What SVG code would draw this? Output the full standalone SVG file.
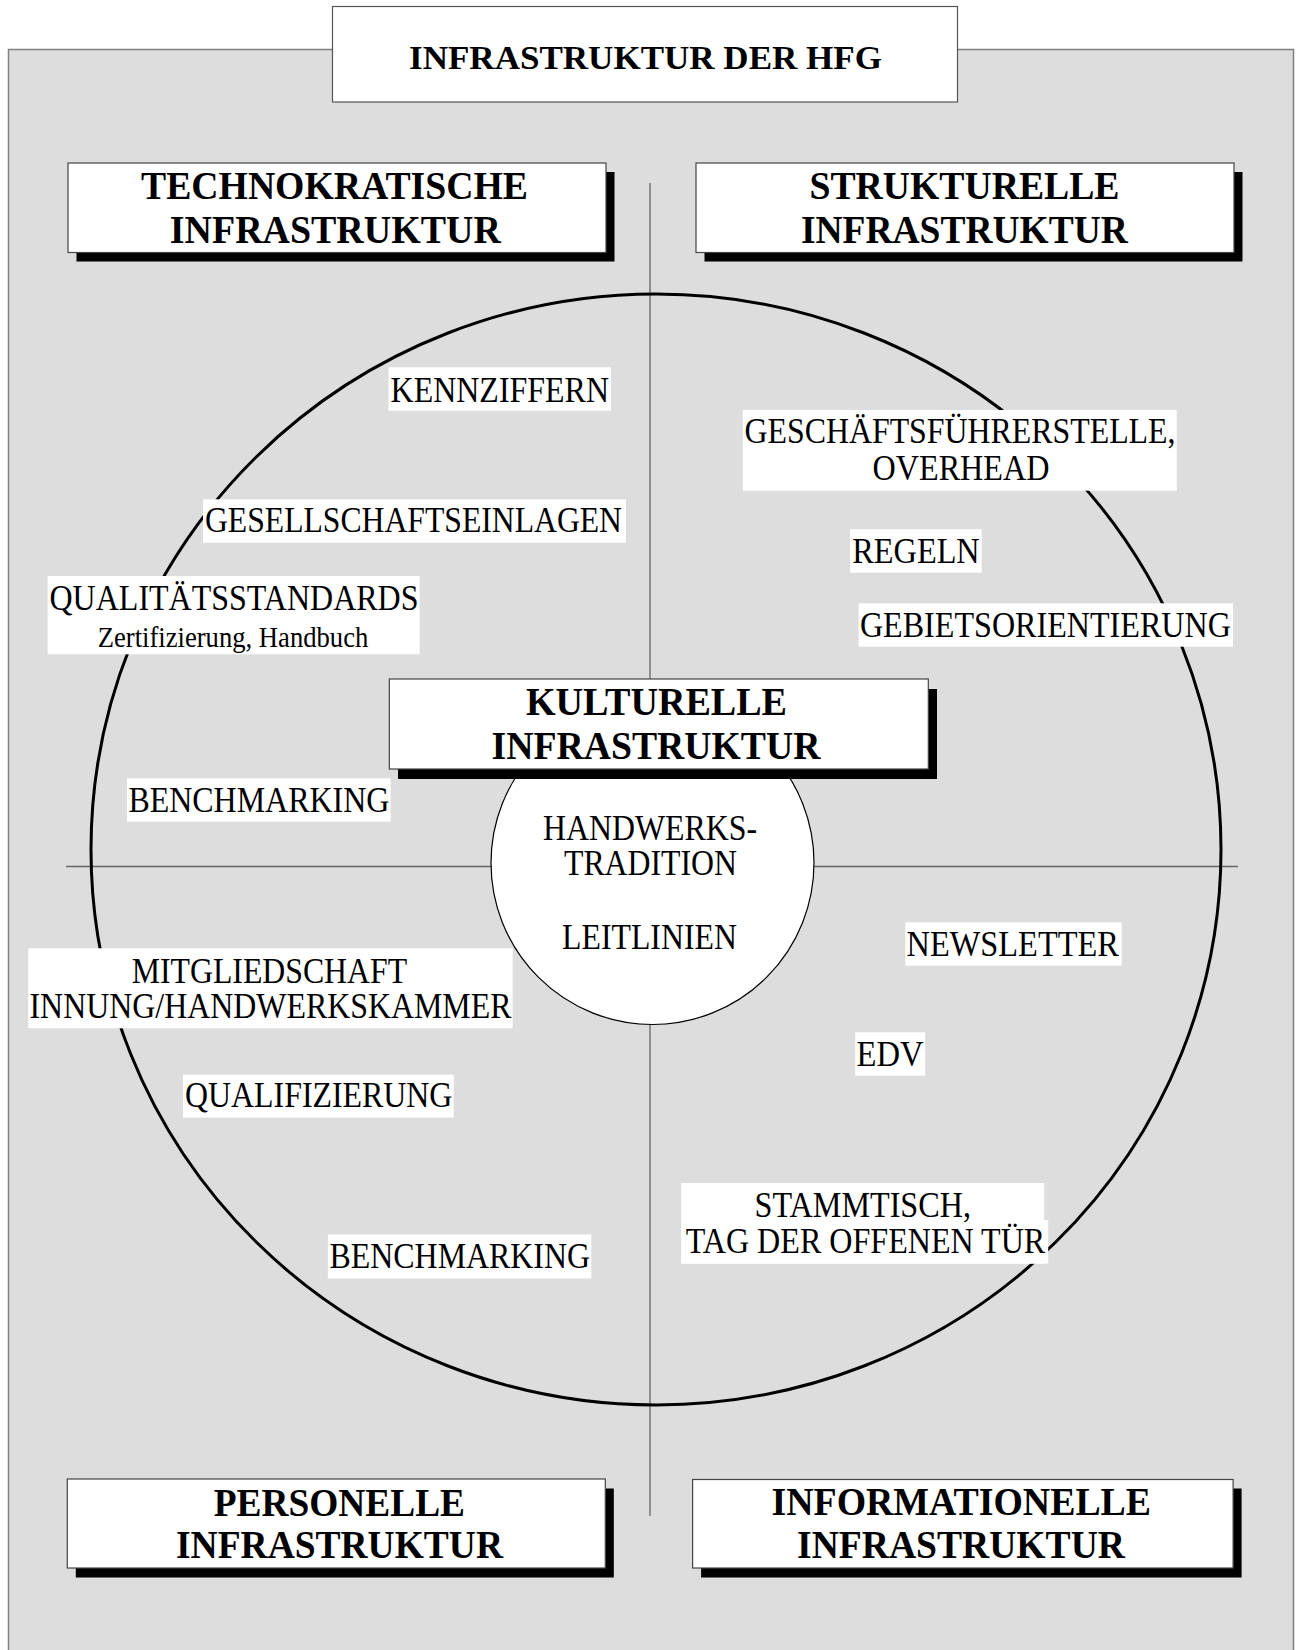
<svg xmlns="http://www.w3.org/2000/svg" width="1302" height="1650" viewBox="0 0 1302 1650">
<style>
.box{fill:#ffffff;stroke:#444444;stroke-width:1.2}
.shadow{fill:#000000}
.hd{font-family:"Liberation Serif","Times New Roman",serif;font-weight:bold;font-size:39px;fill:#000;text-anchor:middle}
.lb{font-family:"Liberation Serif","Times New Roman",serif;font-size:36px;fill:#000;text-anchor:middle}
.sm{font-family:"Liberation Serif","Times New Roman",serif;font-size:30px;fill:#000;text-anchor:middle}
.bg{fill:#ffffff}
.axis{stroke:#666666;stroke-width:1.3;fill:none}
</style>
<rect x="8.5" y="49.5" width="1285" height="1620" fill="#dddddd" stroke="#808080" stroke-width="1.5"/>

<g id="connectors">
  <line class="axis" x1="650" y1="183" x2="650" y2="1516"/>
  <line class="axis" x1="66" y1="866.5" x2="1238" y2="866.5"/>
  <ellipse cx="656" cy="849.5" rx="565" ry="555.5" fill="none" stroke="#000" stroke-width="3"/>
</g>

<g id="title">
  <rect x="332.5" y="6.5" width="625" height="95.5" fill="#fff" stroke="#555" stroke-width="1.2"/>
  <text class="hd" style="font-size:34px" x="645.5" y="69.3" textLength="473" lengthAdjust="spacingAndGlyphs">INFRASTRUKTUR DER HFG</text>
</g>

<g id="technokratische">
  <rect class="shadow" x="76.5" y="172" width="538" height="89.5"/>
  <rect class="box" x="68" y="163" width="538" height="89.5"/>
  <text class="hd" x="334.5" y="199.3" textLength="387" lengthAdjust="spacingAndGlyphs">TECHNOKRATISCHE</text>
  <text class="hd" x="335.3" y="242.7" textLength="331" lengthAdjust="spacingAndGlyphs">INFRASTRUKTUR</text>
</g>

<g id="strukturelle">
  <rect class="shadow" x="704.5" y="172" width="538" height="89.5"/>
  <rect class="box" x="696" y="163" width="538" height="89.5"/>
  <text class="hd" x="964.5" y="199.3" textLength="310" lengthAdjust="spacingAndGlyphs">STRUKTURELLE</text>
  <text class="hd" x="964.4" y="242.7" textLength="327" lengthAdjust="spacingAndGlyphs">INFRASTRUKTUR</text>
</g>

<g id="kennziffern">
  <rect class="bg" x="388.5" y="367.3" width="222.5" height="43.4"/>
  <text class="lb" x="499.8" y="401.7" textLength="218.4" lengthAdjust="spacingAndGlyphs">KENNZIFFERN</text>
</g>

<g id="gesellschaftseinlagen">
  <rect class="bg" x="203" y="499.3" width="423" height="43.4"/>
  <text class="lb" x="413.5" y="532.3" textLength="417" lengthAdjust="spacingAndGlyphs">GESELLSCHAFTSEINLAGEN</text>
</g>

<g id="qualitaetsstandards">
  <rect class="bg" x="47.6" y="576" width="372" height="78.3"/>
  <text class="lb" x="234" y="610" textLength="369" lengthAdjust="spacingAndGlyphs">QUALITÄTSSTANDARDS</text>
  <text class="sm" x="233" y="646.7" textLength="270.6" lengthAdjust="spacingAndGlyphs">Zertifizierung, Handbuch</text>
</g>

<g id="benchmarking1">
  <rect class="bg" x="127" y="778.3" width="263.6" height="43.4"/>
  <text class="lb" x="258.9" y="812.3" textLength="261" lengthAdjust="spacingAndGlyphs">BENCHMARKING</text>
</g>

<g id="geschaeftsfuehrerstelle">
  <rect class="bg" x="742.7" y="410" width="434" height="80.7"/>
  <text class="lb" x="960" y="443.3" textLength="431" lengthAdjust="spacingAndGlyphs">GESCHÄFTSFÜHRERSTELLE,</text>
  <text class="lb" x="961" y="480" textLength="177" lengthAdjust="spacingAndGlyphs">OVERHEAD</text>
</g>

<g id="regeln">
  <rect class="bg" x="850.1" y="529.3" width="131.6" height="43.4"/>
  <text class="lb" x="916" y="562.7" textLength="127.4" lengthAdjust="spacingAndGlyphs">REGELN</text>
</g>

<g id="gebietsorientierung">
  <rect class="bg" x="858.6" y="603.3" width="374.4" height="43.4"/>
  <text class="lb" x="1045.4" y="636.7" textLength="371" lengthAdjust="spacingAndGlyphs">GEBIETSORIENTIERUNG</text>
</g>

<g id="kulturelle">
  <circle cx="652.5" cy="863" r="161.5" fill="#fff" stroke="#000" stroke-width="1.2"/>
  <rect class="shadow" x="398" y="689" width="539" height="90"/>
  <rect class="box" x="389.3" y="679" width="539" height="90"/>
  <text class="hd" x="656.5" y="715" textLength="261" lengthAdjust="spacingAndGlyphs">KULTURELLE</text>
  <text class="hd" x="656" y="759.3" textLength="329" lengthAdjust="spacingAndGlyphs">INFRASTRUKTUR</text>
  <text class="lb" x="650" y="840" textLength="214" lengthAdjust="spacingAndGlyphs">HANDWERKS-</text>
  <text class="lb" x="650.5" y="875" textLength="173" lengthAdjust="spacingAndGlyphs">TRADITION</text>
  <text class="lb" x="649.5" y="949.3" textLength="175" lengthAdjust="spacingAndGlyphs">LEITLINIEN</text>
</g>

<g id="mitgliedschaft">
  <rect class="bg" x="28.2" y="948.3" width="484.4" height="80"/>
  <text class="lb" x="269.4" y="982.7" textLength="275.3" lengthAdjust="spacingAndGlyphs">MITGLIEDSCHAFT</text>
  <text class="lb" x="270.5" y="1018.3" textLength="482" lengthAdjust="spacingAndGlyphs">INNUNG/HANDWERKSKAMMER</text>
</g>

<g id="newsletter">
  <rect class="bg" x="905.3" y="922.3" width="216.4" height="43.4"/>
  <text class="lb" x="1012.7" y="956" textLength="212.3" lengthAdjust="spacingAndGlyphs">NEWSLETTER</text>
</g>

<g id="edv">
  <rect class="bg" x="855.2" y="1032.3" width="70" height="43.4"/>
  <text class="lb" x="890" y="1065.7" textLength="67" lengthAdjust="spacingAndGlyphs">EDV</text>
</g>

<g id="qualifizierung">
  <rect class="bg" x="183" y="1074.6" width="270.7" height="43"/>
  <text class="lb" x="318.7" y="1107.3" textLength="267.4" lengthAdjust="spacingAndGlyphs">QUALIFIZIERUNG</text>
</g>

<g id="benchmarking2">
  <rect class="bg" x="327.9" y="1234.5" width="263.4" height="44"/>
  <text class="lb" x="459.8" y="1268.3" textLength="260.5" lengthAdjust="spacingAndGlyphs">BENCHMARKING</text>
</g>

<g id="stammtisch">
  <rect class="bg" x="681.2" y="1183" width="363" height="80.6"/>
  <rect class="bg" x="681.2" y="1220" width="367" height="43.6"/>
  <text class="lb" x="862.8" y="1217.4" textLength="216.4" lengthAdjust="spacingAndGlyphs">STAMMTISCH,</text>
  <text class="lb" x="865.5" y="1252.7" textLength="359.5" lengthAdjust="spacingAndGlyphs">TAG DER OFFENEN TÜR</text>
</g>

<g id="personelle">
  <rect class="shadow" x="75.8" y="1488.5" width="538" height="89"/>
  <rect class="box" x="67.3" y="1479" width="538" height="89"/>
  <text class="hd" x="339.4" y="1515.5" textLength="251.2" lengthAdjust="spacingAndGlyphs">PERSONELLE</text>
  <text class="hd" x="339.5" y="1558.4" textLength="327" lengthAdjust="spacingAndGlyphs">INFRASTRUKTUR</text>
</g>

<g id="informationelle">
  <rect class="shadow" x="701.1" y="1488.5" width="540.5" height="89"/>
  <rect class="box" x="692.6" y="1479.5" width="540.5" height="88.5"/>
  <text class="hd" x="961.3" y="1515" textLength="379.5" lengthAdjust="spacingAndGlyphs">INFORMATIONELLE</text>
  <text class="hd" x="961" y="1558" textLength="328" lengthAdjust="spacingAndGlyphs">INFRASTRUKTUR</text>
</g>
</svg>
